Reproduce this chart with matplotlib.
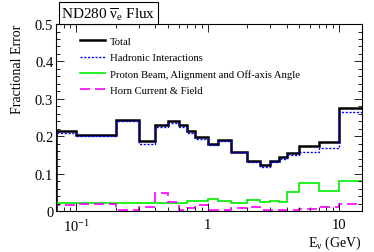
import numpy as np
import matplotlib
matplotlib.use('Agg')
import matplotlib.pyplot as plt

plt.rcParams['font.family'] = ['Liberation Serif', 'DejaVu Serif']
plt.rcParams['mathtext.fontset'] = 'custom'
plt.rcParams['mathtext.rm'] = 'Liberation Serif'
plt.rcParams['mathtext.it'] = 'Liberation Serif'
plt.rcParams['mathtext.bf'] = 'Liberation Serif:bold'

# bin edges (GeV)
edges = [0.07, 0.1, 0.2, 0.3, 0.4, 0.5, 0.6, 0.7, 0.8, 1.0, 1.2, 1.5,
         2.0, 2.5, 3.0, 3.5, 4.0, 5.0, 7.0, 10.0, 30.0]

total = [0.215, 0.204, 0.244, 0.186, 0.230, 0.240, 0.230, 0.213, 0.197, 0.180,
         0.191, 0.159, 0.133, 0.122, 0.133, 0.144, 0.156, 0.173, 0.184, 0.275]
hadronic = [0.208, 0.200, 0.242, 0.180, 0.224, 0.236, 0.226, 0.208, 0.193, 0.176,
            0.188, 0.157, 0.130, 0.118, 0.130, 0.140, 0.150, 0.158, 0.168, 0.264]
proton = [0.022, 0.022, 0.021, 0.021, 0.022, 0.022, 0.022, 0.026, 0.027, 0.032,
          0.027, 0.022, 0.030, 0.025, 0.027, 0.025, 0.051, 0.075, 0.053, 0.079]
horn = [0.017, 0.020, 0.004, 0.011, 0.047, 0.025, 0.003, 0.008, 0.017, 0.004,
        0.002, 0.007, 0.012, 0.002, 0.003, 0.003, 0.002, 0.005, 0.010, 0.019]

labels = ['Total', 'Hadronic Interactions',
          'Proton Beam, Alignment and Off-axis Angle', 'Horn Current & Field']

fig = plt.figure(figsize=(3.74, 2.53), dpi=100)
ax = fig.add_axes([0.150, 0.162, 0.818, 0.739])

ax.stairs(total, edges, color='black', linewidth=1.8, label=labels[0])
ax.stairs(hadronic, edges, color='#0000ff', linewidth=1.0, linestyle=(0, (1.5, 1.2)), label=labels[1])
ax.stairs(proton, edges, color='#00ee00', linewidth=1.2, label=labels[2])
ax.stairs(horn, edges, color='#ff00ff', linewidth=1.2, linestyle=(0, (6, 3)), label=labels[3])

ax.set_xscale('log')
ax.set_xlim(0.07, 15)
ax.set_ylim(0, 0.5)
ax.set_yticks([0, 0.1, 0.2, 0.3, 0.4, 0.5])
ax.set_yticklabels(['0', '0.1', '0.2', '0.3', '0.4', '0.5'])
ax.set_yticks(np.arange(0, 0.5, 0.02), minor=True)
ax.set_xticks([0.1, 1, 10])
ax.set_xticklabels([r'$10^{-1}$', '1', '10'])
ax.tick_params(which='both', direction='in', top=True, right=True, labelsize=10.5)
ax.tick_params(which='major', length=6, width=0.6)
ax.tick_params(which='minor', length=3, width=0.6)
ax.tick_params(axis='x', pad=5)
ax.tick_params(axis='y', pad=2)
for s in ax.spines.values():
    s.set_linewidth(0.8)

ax.set_ylabel('Fractional Error', fontsize=10, loc='top', labelpad=8)
ax.set_xlabel(r'E$_{\nu}$ (GeV)', fontsize=10, loc='right', labelpad=0)

ax.legend(loc='upper left', bbox_to_anchor=(0.065, 0.955), frameon=False, fontsize=7.7,
          handlelength=2.3, handletextpad=0.5, labelspacing=0.62, borderaxespad=0)

fig.text(0.163, 0.944, r'ND280 $\overline{\nu}_{e}$ Flux', fontsize=11,
         ha='left', va='center',
         bbox=dict(boxstyle='square,pad=0.15', facecolor='white', edgecolor='black', linewidth=0.8))

fig.savefig('out.png', dpi=100)
